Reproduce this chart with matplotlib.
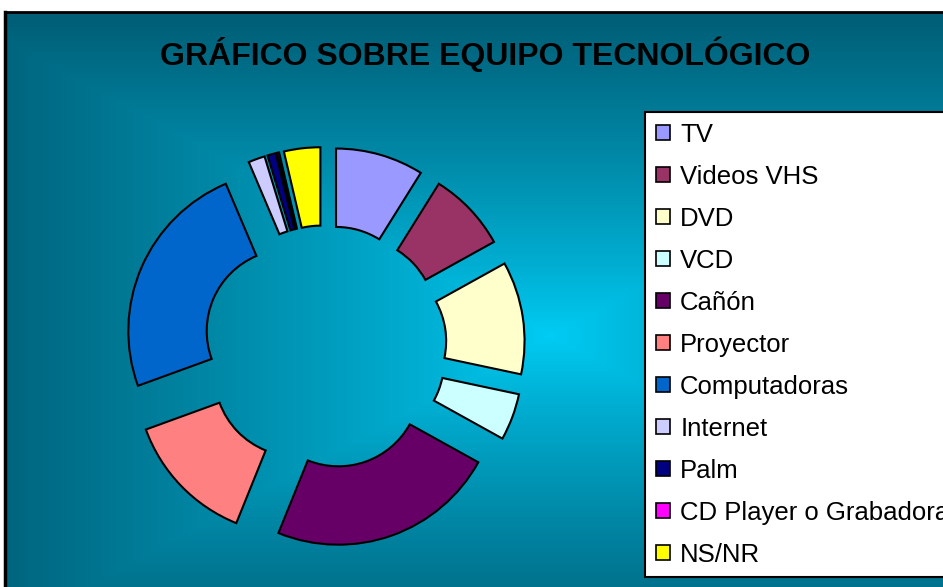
import numpy as np
import matplotlib.pyplot as plt
from matplotlib.patches import Patch

# equipment categories and their shares of the ring
categories = ['TV', 'Videos VHS', 'DVD', 'VCD', 'Cañón', 'Proyector',
              'Computadoras', 'Internet', 'Palm', 'CD Player o Grabadora', 'NS/NR']
values = [32, 29, 41, 17, 83, 48, 87, 6, 3, 0.8, 13.2]
colors = ['#9999FF', '#993366', '#FFFFCC', '#CCFFFF', '#660066', '#FF8080',
          '#0066CC', '#CCCCFF', '#000080', '#FF00FF', '#FFFF00']

W, H = 943, 587
fig = plt.figure(figsize=(W / 100, H / 100), dpi=100)
fig.patch.set_facecolor('white')

# chart area with a bright-centre gradient
bg = fig.add_axes([5 / W, 0, 1 - 5 / W, (H - 12) / H])
xx, yy = np.meshgrid(np.arange(5, W), np.arange(12, H))
t = np.maximum(np.abs(xx - 550) / 600.0, np.abs(yy - 335) / 325.0)
t = np.clip(t, 0, 1) ** 0.85
c_in = np.array([0, 205, 245]) / 255.0
c_out = np.array([0, 92, 116]) / 255.0
img = c_in[None, None, :] * (1 - t[..., None]) + c_out[None, None, :] * t[..., None]
bg.imshow(img, aspect='auto', interpolation='bilinear')
bg.set_axis_off()

# black frame lines on the visible top and left edges
fig.add_artist(plt.Line2D([5 / W, 1], [(H - 12) / H] * 2, color='black', lw=2))
fig.add_artist(plt.Line2D([5 / W] * 2, [0, (H - 12) / H], color='black', lw=2.5))

# exploded doughnut
cx, cy, R = 325, 347, 160
half = 1.6 * R
ax = fig.add_axes([(cx - half) / W, (H - cy - half) / H, 2 * half / W, 2 * half / H])
ax.pie(values, colors=colors, startangle=90, counterclock=False,
       explode=[0.25] * len(values), radius=1.0,
       wedgeprops=dict(width=0.49, edgecolor='black', linewidth=1.5))
ax.set_xlim(-1.6, 1.6)
ax.set_ylim(-1.6, 1.6)
ax.set_axis_off()

fig.text(485 / W, 1 - 54 / H, 'GRÁFICO SOBRE EQUIPO TECNOLÓGICO',
         ha='center', va='center', fontsize=23, fontweight='bold',
         family=['Liberation Sans Narrow', 'Liberation Sans', 'DejaVu Sans'])

handles = [Patch(facecolor=c, edgecolor='black', linewidth=1.2) for c in colors]
leg = fig.legend(handles, categories, loc='upper left',
                 bbox_to_anchor=(645 / W, 1 - 112 / H),
                 prop={'family': 'Liberation Sans', 'size': 18.5},
                 handlelength=0.55, handleheight=0.55, handletextpad=0.4,
                 labelspacing=0.7, borderpad=0.42, borderaxespad=0,
                 fancybox=False, framealpha=1, edgecolor='black')
leg.get_frame().set_linewidth(1.5)

fig.savefig('out.png', dpi=100)
